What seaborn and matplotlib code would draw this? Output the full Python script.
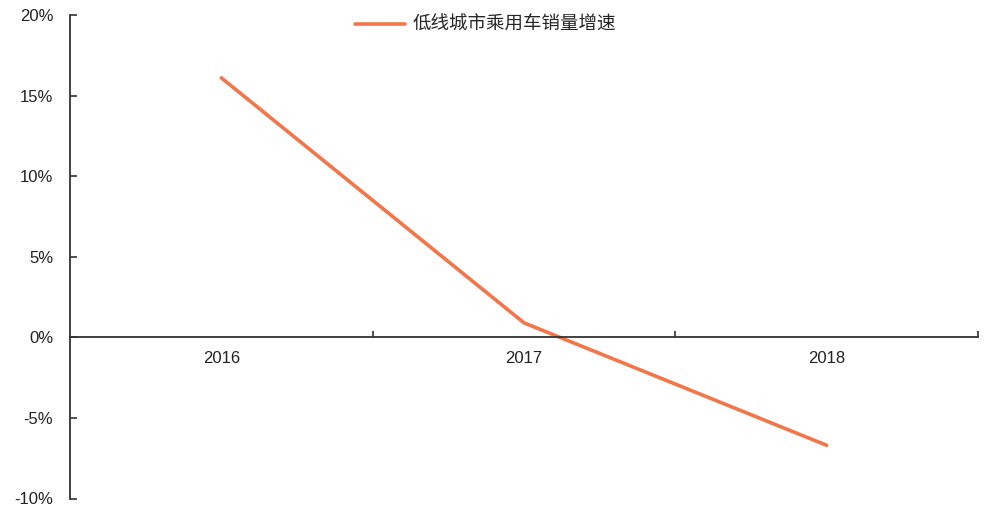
import matplotlib
matplotlib.use("Agg")
import matplotlib.pyplot as plt
import seaborn as sns
import pandas as pd
from matplotlib.ticker import FuncFormatter, MultipleLocator, FixedLocator

# Passenger-car sales growth in lower-tier cities
years = ["2016", "2017", "2018"]
growth = [16.1, 0.9, -6.7]  # percent
series_name = "低线城市乘用车销量增速"

sns.set_theme(style="white")
plt.rcParams["font.family"] = ["Liberation Sans", "Noto Sans CJK SC", "DejaVu Sans"]

df = pd.DataFrame({"year": years, "growth": growth, "series": series_name})

fig = plt.figure(figsize=(9.86, 5.08), dpi=100)
ax = fig.add_axes([70 / 986, 1 - 498.5 / 508, (978 - 70) / 986, (498.5 - 15) / 508])

line_color = "#F27649"
sns.lineplot(data=df, x="year", y="growth", ax=ax, color=line_color,
             linewidth=2.6, label=series_name, sort=False)

ax.set_xlim(-0.5, 2.5)
ax.set_ylim(-10, 20)
ax.yaxis.set_major_locator(MultipleLocator(5))
ax.yaxis.set_major_formatter(FuncFormatter(lambda v, _: f"{v:.0f}%"))

# spines: left axis plus a baseline at zero
for s in ("top", "right"):
    ax.spines[s].set_visible(False)
ax.spines["bottom"].set_position(("data", 0))
for s in ("left", "bottom"):
    ax.spines[s].set_color("#333333")
    ax.spines[s].set_linewidth(1.3)

ax.tick_params(axis="y", direction="in", length=5, width=1.2, color="#333333",
               labelsize=12, pad=12, labelcolor="#222222", left=True)
ax.xaxis.set_minor_locator(FixedLocator([0.5, 1.5, 2.5]))
ax.tick_params(axis="x", which="major", length=0, labelsize=12, pad=10,
               labelcolor="#222222")
ax.tick_params(axis="x", which="minor", direction="in", length=4, width=1.2,
               color="#333333", bottom=True)

ax.set_xlabel("")
ax.set_ylabel("")
ax.grid(False)

leg = ax.legend(loc="center left", bbox_to_anchor=(355 / 986, 1 - 25 / 508),
                bbox_transform=fig.transFigure, frameon=False, borderpad=0,
                borderaxespad=0, handlelength=2.7, handletextpad=0.4,
                prop={"family": ["Noto Sans CJK SC", "DejaVu Sans"], "size": 13.3})

fig.savefig("out.png", dpi=100)
